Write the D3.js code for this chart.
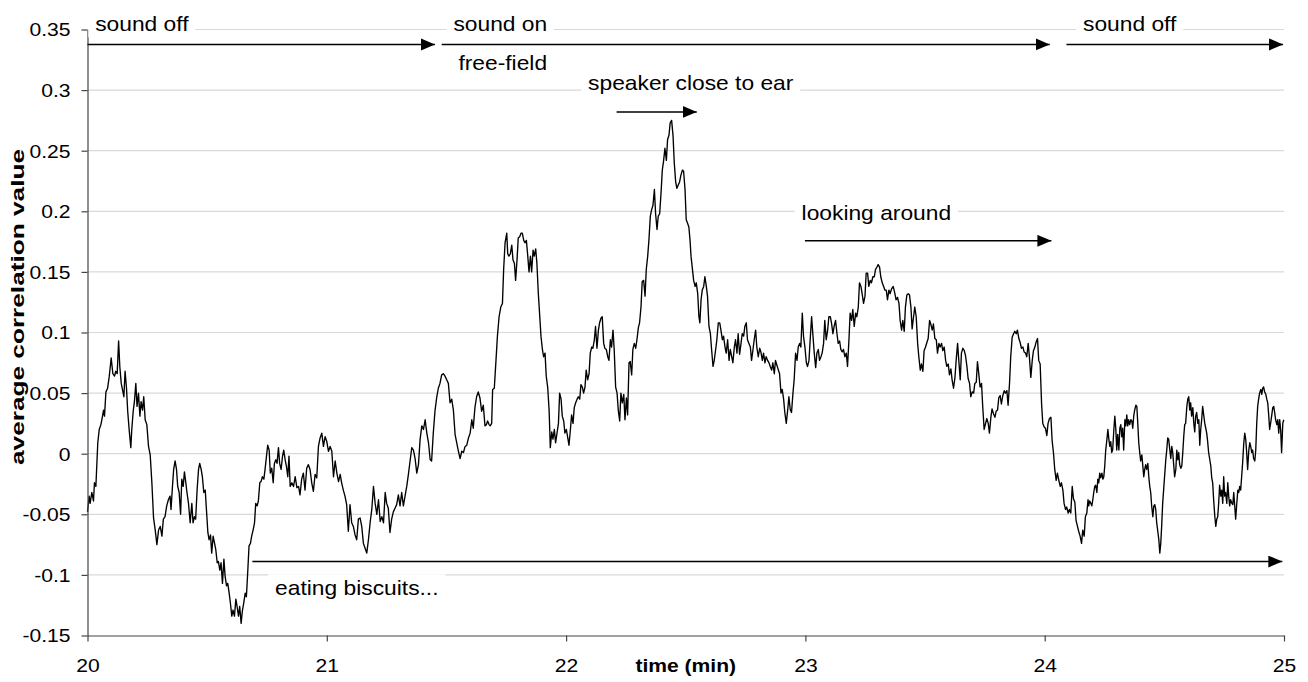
<!DOCTYPE html>
<html><head><meta charset="utf-8">
<script src="https://cdn.jsdelivr.net/npm/d3@7"></script>
<style>body{margin:0;background:#fff}svg{display:block;font-family:"Liberation Sans",Arial,Helvetica,sans-serif}</style>
</head><body><svg id="chart" width="1308" height="682"></svg>
<script>
// [time (min), average correlation value]
const readings = [
[20.000,-0.048],[20.007,-0.035],[20.011,-0.041],[20.018,-0.032],[20.025,-0.039],[20.029,-0.024],[20.035,-0.027],[20.043,0.009],[20.049,0.020],[20.056,0.024],[20.060,0.028],[20.067,0.036],[20.071,0.031],[20.077,0.051],[20.084,0.054],[20.091,0.064],[20.099,0.079],[20.106,0.066],[20.113,0.064],[20.118,0.068],[20.124,0.066],[20.130,0.093],[20.135,0.072],[20.141,0.058],[20.146,0.053],[20.152,0.047],[20.157,0.068],[20.163,0.054],[20.168,0.035],[20.174,0.020],[20.181,0.005],[20.185,0.020],[20.191,0.035],[20.196,0.043],[20.202,0.058],[20.207,0.039],[20.213,0.050],[20.219,0.031],[20.224,0.043],[20.230,0.036],[20.235,0.047],[20.241,0.028],[20.248,0.024],[20.255,0.006],[20.262,-0.001],[20.269,-0.024],[20.276,-0.053],[20.283,-0.063],[20.290,-0.075],[20.297,-0.063],[20.304,-0.060],[20.311,-0.068],[20.317,-0.054],[20.324,-0.052],[20.331,-0.043],[20.338,-0.038],[20.345,-0.035],[20.349,-0.046],[20.355,-0.027],[20.360,-0.013],[20.366,-0.006],[20.372,-0.013],[20.377,-0.027],[20.383,-0.032],[20.389,-0.050],[20.394,-0.021],[20.400,-0.027],[20.405,-0.015],[20.411,-0.024],[20.415,-0.031],[20.422,-0.041],[20.429,-0.057],[20.436,-0.041],[20.441,-0.057],[20.447,-0.052],[20.452,-0.054],[20.458,-0.030],[20.464,-0.013],[20.469,-0.008],[20.475,-0.013],[20.480,-0.019],[20.486,-0.032],[20.492,-0.030],[20.497,-0.046],[20.503,-0.065],[20.508,-0.071],[20.514,-0.067],[20.519,-0.082],[20.525,-0.068],[20.531,-0.074],[20.536,-0.079],[20.542,-0.090],[20.547,-0.089],[20.553,-0.096],[20.558,-0.090],[20.564,-0.107],[20.570,-0.087],[20.575,-0.101],[20.581,-0.109],[20.586,-0.107],[20.592,-0.115],[20.597,-0.123],[20.603,-0.134],[20.608,-0.129],[20.614,-0.134],[20.620,-0.120],[20.625,-0.126],[20.631,-0.134],[20.636,-0.126],[20.642,-0.140],[20.647,-0.130],[20.653,-0.123],[20.659,-0.115],[20.664,-0.118],[20.670,-0.096],[20.675,-0.076],[20.681,-0.074],[20.686,-0.068],[20.692,-0.063],[20.698,-0.057],[20.703,-0.041],[20.709,-0.043],[20.714,-0.039],[20.720,-0.024],[20.725,-0.023],[20.731,-0.019],[20.737,-0.021],[20.742,-0.013],[20.748,-0.002],[20.753,0.007],[20.759,0.003],[20.764,-0.016],[20.770,-0.012],[20.776,-0.024],[20.781,-0.008],[20.787,-0.005],[20.792,-0.008],[20.798,0.005],[20.803,-0.008],[20.809,-0.013],[20.815,-0.002],[20.820,0.003],[20.826,-0.005],[20.831,-0.010],[20.837,-0.019],[20.842,-0.002],
[20.847,-0.027],[20.854,-0.024],[20.861,-0.027],[20.868,-0.019],[20.875,-0.028],[20.882,-0.027],[20.888,-0.034],[20.895,-0.021],[20.902,-0.016],[20.909,-0.030],[20.916,-0.012],[20.923,-0.009],[20.930,-0.013],[20.937,-0.024],[20.944,-0.031],[20.951,-0.017],[20.958,-0.020],[20.965,0.006],[20.972,0.013],[20.979,0.017],[20.986,0.006],[20.993,0.014],[21.000,0.010],[21.007,0.002],[21.014,0.006],[21.021,0.002],[21.028,-0.019],[21.035,-0.006],[21.042,-0.016],[21.049,-0.023],[21.056,-0.017],[21.062,-0.024],[21.069,-0.030],[21.076,-0.035],[21.083,-0.042],[21.090,-0.064],[21.097,-0.042],[21.104,-0.057],[21.111,-0.060],[21.118,-0.067],[21.125,-0.071],[21.132,-0.054],[21.139,-0.053],[21.146,-0.060],[21.153,-0.074],[21.160,-0.078],[21.167,-0.082],[21.174,-0.071],[21.181,-0.057],[21.188,-0.046],[21.195,-0.027],[21.202,-0.041],[21.209,-0.050],[21.216,-0.038],[21.223,-0.056],[21.230,-0.052],[21.237,-0.057],[21.244,-0.032],[21.250,-0.041],[21.257,-0.045],[21.264,-0.065],[21.271,-0.054],[21.278,-0.048],[21.285,-0.045],[21.292,-0.042],[21.299,-0.034],[21.306,-0.043],[21.313,-0.032],[21.320,-0.043],[21.327,-0.035],[21.334,-0.027],[21.341,-0.017],[21.348,-0.006],[21.355,0.005],[21.362,0.003],[21.369,-0.004],[21.376,-0.016],[21.383,-0.009],[21.390,0.012],[21.397,0.023],[21.404,0.020],[21.411,0.028],[21.418,0.017],[21.425,0.009],[21.432,-0.005],[21.438,-0.006],[21.445,0.017],[21.452,0.035],[21.459,0.046],[21.466,0.054],[21.473,0.058],[21.480,0.065],[21.487,0.066],[21.494,0.064],[21.501,0.061],[21.508,0.058],[21.515,0.042],[21.522,0.045],[21.529,0.036],[21.536,0.016],[21.543,0.009],[21.550,0.002],[21.557,-0.004],[21.564,0.002],[21.571,0.001],[21.578,0.006],[21.585,0.007],[21.592,0.013],[21.599,0.017],[21.606,0.028],[21.612,0.021],[21.619,0.038],[21.626,0.047],[21.633,0.051],[21.640,0.046],[21.647,0.035],[21.654,0.040],[21.661,0.023],
[21.667,0.024],[21.672,0.027],[21.678,0.024],[21.683,0.023],[21.689,0.025],[21.693,0.053],[21.700,0.054],[21.707,0.077],[21.713,0.097],[21.720,0.113],[21.727,0.121],[21.734,0.124],[21.739,0.152],[21.745,0.174],[21.752,0.182],[21.756,0.165],[21.761,0.163],[21.767,0.165],[21.773,0.172],[21.778,0.160],[21.784,0.157],[21.789,0.143],[21.795,0.160],[21.800,0.178],[21.806,0.179],[21.812,0.182],[21.817,0.182],[21.823,0.176],[21.828,0.174],[21.834,0.176],[21.839,0.165],[21.845,0.150],[21.851,0.163],[21.856,0.150],[21.862,0.168],[21.867,0.163],[21.873,0.169],[21.878,0.157],[21.884,0.132],[21.890,0.113],[21.895,0.097],[21.901,0.086],[21.906,0.080],[21.912,0.083],[21.917,0.064],[21.923,0.055],[21.929,0.036],[21.934,0.005],[21.940,0.018],[21.945,0.012],[21.951,0.020],[21.956,0.009],[21.962,0.017],[21.968,0.025],[21.973,0.050],[21.979,0.045],[21.984,0.031],[21.990,0.027],[21.995,0.017],[22.001,0.020],[22.007,0.013],[22.012,0.007],[22.018,0.020],[22.023,0.032],[22.029,0.025],[22.034,0.038],[22.040,0.042],[22.046,0.045],[22.051,0.047],[22.057,0.045],[22.062,0.057],[22.068,0.055],[22.073,0.050],[22.079,0.055],[22.084,0.069],[22.090,0.061],[22.096,0.066],[22.101,0.083],[22.107,0.088],[22.112,0.087],[22.118,0.094],[22.123,0.105],[22.129,0.087],[22.135,0.102],[22.140,0.108],[22.146,0.112],[22.151,0.113],[22.157,0.091],[22.162,0.087],[22.168,0.086],[22.174,0.080],[22.179,0.077],[22.185,0.094],[22.190,0.088],[22.196,0.102],[22.201,0.086],[22.207,0.055],[22.213,0.050],[22.218,0.036],[22.224,0.027],[22.229,0.050],[22.235,0.042],[22.241,0.049],[22.246,0.028],[22.252,0.046],[22.257,0.032],[22.263,0.075],[22.268,0.076],[22.274,0.065],[22.279,0.086],[22.285,0.091],[22.291,0.087],[22.296,0.094],[22.302,0.104],[22.307,0.108],[22.313,0.121],[22.318,0.142],[22.324,0.143],[22.330,0.130],[22.335,0.152],[22.341,0.163],[22.346,0.176],[22.352,0.196],[22.357,0.201],[22.363,0.205],[22.369,0.218],[22.374,0.198],[22.380,0.185],[22.385,0.196],[22.391,0.198],[22.397,0.216],[22.402,0.234],[22.407,0.241],[22.413,0.252],[22.419,0.242],[22.424,0.259],[22.430,0.263],[22.435,0.273],[22.441,0.275],[22.447,0.262],[22.452,0.240],[22.458,0.224],[22.463,0.219],[22.469,0.222],[22.474,0.224],[22.480,0.230],[22.486,0.234],[22.491,0.233],[22.497,0.218],[22.502,0.193],[22.508,0.190],
[22.513,0.187],[22.518,0.176],[22.522,0.163],[22.527,0.154],[22.533,0.143],[22.539,0.138],[22.544,0.141],[22.550,0.132],[22.555,0.113],[22.559,0.108],[22.564,0.127],[22.569,0.135],[22.575,0.138],[22.580,0.146],[22.586,0.138],[22.591,0.130],[22.597,0.105],[22.603,0.099],[22.608,0.086],[22.614,0.072],[22.619,0.077],[22.625,0.086],[22.630,0.094],[22.636,0.108],[22.642,0.108],[22.647,0.102],[22.653,0.094],[22.658,0.097],[22.664,0.088],[22.669,0.083],[22.675,0.094],[22.681,0.077],[22.686,0.086],[22.692,0.080],[22.697,0.075],[22.703,0.088],[22.708,0.094],[22.714,0.083],[22.719,0.099],[22.725,0.082],[22.731,0.091],[22.736,0.099],[22.742,0.097],[22.747,0.105],[22.753,0.108],[22.758,0.094],[22.764,0.091],[22.770,0.088],[22.775,0.077],[22.781,0.086],[22.786,0.094],[22.792,0.102],[22.797,0.088],[22.803,0.080],[22.809,0.087],[22.814,0.084],[22.820,0.077],[22.825,0.083],[22.831,0.075],[22.836,0.080],[22.842,0.077],[22.848,0.075],[22.853,0.072],[22.859,0.069],[22.864,0.075],[22.870,0.066],[22.875,0.077],[22.881,0.073],[22.887,0.069],[22.892,0.066],[22.898,0.050],[22.903,0.053],[22.909,0.045],[22.914,0.034],[22.920,0.025],[22.926,0.036],[22.931,0.047],[22.937,0.036],[22.942,0.034],[22.948,0.050],[22.953,0.061],[22.959,0.083],[22.965,0.077],[22.970,0.088],[22.976,0.091],[22.981,0.088],[22.987,0.116],[22.992,0.097],[22.998,0.088],[23.004,0.075],[23.009,0.072],[23.015,0.077],[23.020,0.094],[23.026,0.113],[23.031,0.099],[23.037,0.083],[23.043,0.071],[23.048,0.083],[23.054,0.086],[23.059,0.077],[23.065,0.080],[23.070,0.083],[23.076,0.091],[23.081,0.110],[23.087,0.094],[23.093,0.102],[23.098,0.113],[23.104,0.113],[23.109,0.108],[23.115,0.099],[23.120,0.105],[23.126,0.110],[23.132,0.099],[23.137,0.091],[23.143,0.093],[23.148,0.086],[23.154,0.084],[23.159,0.086],[23.165,0.080],[23.171,0.083],[23.176,0.072],[23.182,0.094],[23.187,0.116],[23.193,0.110],[23.198,0.119],[23.204,0.105],[23.210,0.116],[23.215,0.113],[23.221,0.121],[23.226,0.141],[23.232,0.138],[23.237,0.132],[23.243,0.124],[23.249,0.130],[23.254,0.149],[23.260,0.149],[23.265,0.138],[23.271,0.143],[23.276,0.141],[23.282,0.146],[23.288,0.146],[23.293,0.152],[23.299,0.154],[23.304,0.156],[23.310,0.154],[23.315,0.146],[23.321,0.141],[23.327,0.138],[23.332,0.135],[23.338,0.135],
[23.343,0.127],[23.349,0.135],[23.354,0.132],[23.360,0.136],[23.367,0.138],[23.374,0.132],[23.379,0.127],[23.385,0.129],[23.391,0.124],[23.396,0.110],[23.402,0.102],[23.407,0.110],[23.413,0.101],[23.418,0.121],[23.424,0.131],[23.430,0.132],[23.435,0.131],[23.441,0.121],[23.446,0.103],[23.452,0.113],[23.457,0.121],[23.463,0.113],[23.469,0.091],[23.474,0.080],[23.480,0.069],[23.485,0.074],[23.491,0.068],[23.496,0.085],[23.502,0.088],[23.508,0.092],[23.513,0.095],[23.519,0.110],[23.524,0.107],[23.530,0.102],[23.535,0.107],[23.541,0.095],[23.547,0.094],[23.552,0.083],[23.558,0.091],[23.563,0.088],[23.569,0.091],[23.574,0.085],[23.580,0.088],[23.586,0.077],[23.591,0.072],[23.597,0.074],[23.602,0.065],[23.608,0.070],[23.613,0.061],[23.619,0.054],[23.625,0.063],[23.630,0.077],[23.636,0.091],[23.641,0.077],[23.647,0.061],[23.652,0.083],[23.658,0.087],[23.664,0.085],[23.669,0.081],[23.675,0.072],[23.680,0.062],[23.686,0.058],[23.691,0.047],[23.697,0.051],[23.703,0.050],[23.708,0.058],[23.714,0.059],[23.719,0.076],[23.725,0.065],[23.730,0.055],[23.736,0.058],[23.741,0.039],[23.747,0.020],[23.753,0.025],[23.758,0.029],[23.764,0.025],[23.769,0.017],[23.775,0.030],[23.780,0.037],[23.786,0.033],[23.792,0.030],[23.797,0.035],[23.803,0.036],[23.808,0.046],[23.814,0.048],[23.819,0.041],[23.825,0.048],[23.831,0.052],[23.836,0.050],[23.842,0.052],[23.847,0.040],[23.853,0.058],[23.858,0.080],[23.864,0.096],[23.870,0.099],[23.875,0.101],[23.881,0.099],[23.886,0.102],[23.892,0.095],[23.897,0.092],[23.903,0.087],[23.909,0.088],[23.914,0.084],[23.920,0.083],[23.925,0.080],[23.931,0.091],[23.936,0.080],[23.942,0.063],[23.948,0.077],[23.953,0.085],[23.959,0.088],[23.964,0.092],[23.970,0.095],[23.975,0.077],[23.981,0.074],[23.987,0.041],[23.992,0.025],[23.998,0.022],[24.003,0.021],[24.009,0.015],[24.014,0.025],[24.020,0.029],[24.026,0.030],[24.031,0.011],[24.037,0.000],[24.042,-0.013],[24.048,-0.022],[24.053,-0.016],[24.059,-0.022],[24.065,-0.027],[24.070,-0.024],[24.076,-0.030],[24.081,-0.041],[24.087,-0.046],[24.092,-0.044],[24.098,-0.049],[24.103,-0.046],[24.109,-0.049],[24.115,-0.027],[24.120,-0.037],[24.126,-0.040],[24.131,-0.055],[24.137,-0.060],[24.142,-0.064],[24.148,-0.068],[24.154,-0.074],[24.159,-0.063],[24.165,-0.068],[24.170,-0.052],[24.176,-0.049],[24.181,-0.038],
[24.184,-0.043],[24.188,-0.039],[24.193,-0.041],[24.197,-0.043],[24.201,-0.038],[24.205,-0.032],[24.209,-0.027],[24.213,-0.026],[24.218,-0.032],[24.222,-0.021],[24.226,-0.024],[24.230,-0.016],[24.234,-0.020],[24.239,-0.016],[24.243,-0.021],[24.247,-0.019],[24.251,-0.010],[24.255,0.003],[24.259,0.010],[24.264,0.020],[24.268,0.012],[24.272,0.006],[24.276,0.010],[24.280,0.001],[24.284,0.003],[24.289,0.020],[24.293,0.031],[24.297,0.021],[24.301,0.003],[24.305,0.016],[24.310,0.003],[24.314,0.021],[24.318,0.024],[24.322,0.014],[24.326,0.021],[24.330,0.003],[24.335,0.028],[24.339,0.023],[24.343,0.032],[24.347,0.023],[24.351,0.028],[24.355,0.024],[24.360,0.028],[24.364,0.027],[24.368,0.021],[24.372,0.031],[24.376,0.036],[24.381,0.040],[24.385,0.039],[24.389,0.025],[24.393,0.009],[24.397,0.001],[24.401,-0.006],[24.406,-0.001],[24.410,-0.010],[24.414,-0.019],[24.418,-0.013],[24.422,-0.009],[24.426,-0.013],[24.431,-0.008],[24.435,-0.019],[24.439,-0.027],[24.443,-0.032],[24.447,-0.043],[24.452,-0.052],[24.456,-0.043],[24.460,-0.042],[24.464,-0.046],[24.468,-0.057],[24.472,-0.063],[24.477,-0.071],[24.481,-0.082],[24.485,-0.074],[24.489,-0.059],[24.493,-0.041],[24.498,-0.027],[24.502,-0.016],[24.506,-0.005],[24.510,0.003],[24.514,0.013],[24.518,0.012],[24.523,0.003],[24.527,-0.004],[24.531,0.006],[24.535,0.001],[24.539,-0.009],[24.543,-0.019],[24.548,-0.013],[24.552,0.003],[24.556,-0.005],[24.560,0.001],[24.564,-0.009],[24.569,-0.012],[24.573,-0.010],[24.577,0.001],[24.581,0.014],[24.585,0.024],[24.589,0.025],[24.594,0.039],[24.598,0.045],[24.602,0.047],[24.606,0.036],[24.610,0.042],[24.614,0.031],[24.619,0.038],[24.623,0.025],[24.627,0.018],[24.631,0.031],[24.635,0.034],[24.640,0.025],[24.644,0.028],[24.648,0.007],[24.652,0.020],[24.656,0.028],[24.660,0.039],[24.665,0.031],[24.669,0.025],[24.673,0.021],[24.677,0.017],[24.681,0.010],[24.685,0.001],[24.690,-0.005],[24.694,-0.010],[24.698,-0.020],[24.702,-0.024],[24.706,-0.038],[24.711,-0.052],[24.715,-0.060],[24.719,-0.054],[24.723,-0.052],[24.727,-0.041],[24.731,-0.026],[24.736,-0.035],[24.740,-0.030],[24.744,-0.041],[24.748,-0.019],[24.752,-0.035],[24.756,-0.032],[24.761,-0.041],[24.765,-0.024],[24.769,-0.035],[24.773,-0.043],[24.777,-0.038],[24.782,-0.041],[24.786,-0.042],[24.790,-0.032],[24.794,-0.043],[24.798,-0.054],[24.802,-0.043],[24.807,-0.030],[24.811,-0.032],[24.815,-0.027],[24.819,-0.030],[24.823,-0.019],[24.827,-0.008],[24.832,0.009],[24.836,0.017],[24.840,0.012],[24.844,0.001],[24.848,-0.013],[24.853,0.003],[24.857,0.009],[24.861,0.006],[24.865,0.001],[24.869,0.003],[24.873,-0.004],[24.878,-0.006],[24.882,0.003],[24.886,0.025],[24.890,0.039],[24.894,0.045],[24.898,0.050],[24.903,0.053],[24.907,0.049],[24.911,0.054],[24.915,0.055],[24.919,0.051],[24.924,0.049],[24.928,0.045],[24.932,0.042],[24.936,0.032],[24.940,0.020],[24.944,0.025],[24.949,0.032],[24.953,0.038],[24.957,0.039],[24.961,0.034],[24.965,0.028],[24.970,0.024],[24.974,0.028],[24.978,0.017],[24.982,0.028],[24.986,0.020],[24.990,0.001],[24.995,0.025],[24.999,0.028]
];

const xTicks = [20, 21, 22, 23, 24, 25];
const yTicks = [-0.15, -0.1, -0.05, 0, 0.05, 0.1, 0.15, 0.2, 0.25, 0.3, 0.35];
const xTitle = "time (min)";
const yTitle = "average correlation value";

// annotation labels: text, left edge (time), baseline (value)
const noteText = ["sound off", "sound on", "free-field", "speaker close to ear", "looking around", "sound off", "eating biscuits..."];
const noteTime = [20.032, 21.529, 21.550, 22.092, 22.984, 24.160, 20.784];
const noteValue = [0.349, 0.349, 0.3168, 0.3003, 0.1932, 0.349, -0.1165];

// arrows: start time, end time, value level
const arrowStart = [20.0, 21.480, 24.091, 22.211, 22.998, 20.689];
const arrowEnd = [21.452, 24.021, 24.996, 22.546, 24.028, 24.993];
const arrowValue = [0.3377, 0.3377, 0.3377, 0.282, 0.1756, -0.089];

const svg = d3.select("#chart");
const x = d3.scaleLinear().domain([20, 25]).range([87.5, 1284]);
const y = d3.scaleLinear().domain([-0.15, 0.35]).range([635.5, 29.5]);
const SX = 1.14; // horizontal glyph stretch of the original

svg.append("rect").attr("width", 1308).attr("height", 682).attr("fill", "#fff");

// gridlines
svg.append("g").selectAll("line").data(yTicks.filter(d => d > -0.15)).join("line")
  .attr("x1", x(20)).attr("x2", x(25))
  .attr("y1", d => y(d)).attr("y2", d => y(d))
  .attr("stroke", "#d9d9d9").attr("stroke-width", 1.2);

// data line
svg.append("path").datum(readings)
  .attr("fill", "none").attr("stroke", "#000").attr("stroke-width", 1.35)
  .attr("stroke-linejoin", "round")
  .attr("d", d3.line().x(d => x(d[0])).y(d => y(d[1])));

// axes
const fmt = d => (d === 0 ? "0" : String(d));
const gy = svg.append("g").attr("transform", `translate(${x(20)},0)`)
  .call(d3.axisLeft(y).tickValues(yTicks).tickFormat(fmt).tickSize(6).tickSizeOuter(0));
const gx = svg.append("g").attr("transform", `translate(0,${y(-0.15)})`)
  .call(d3.axisBottom(x).tickValues(xTicks).tickFormat(d3.format("d")).tickSize(6).tickSizeOuter(0));
[gy, gx].forEach(g => {
  g.select(".domain").attr("stroke", "#444").attr("stroke-width", 1.2);
  g.selectAll(".tick line").attr("stroke", "#444").attr("stroke-width", 1.2);
  g.selectAll("text").attr("fill", "#000").attr("font-size", 18.5)
    .attr("font-family", '"Liberation Sans", Arial, sans-serif');
});
gy.selectAll(".tick text").attr("x", 0).attr("dy", "0.35em")
  .attr("transform", `translate(-17,0) scale(${SX},1)`);
gx.selectAll(".tick text").attr("y", 0).attr("dy", 0)
  .attr("transform", `translate(0,36) scale(${SX},1)`);

// axis titles
svg.append("text").attr("transform", `translate(${(x(22) + x(23)) / 2},672) scale(${SX},1)`)
  .attr("text-anchor", "middle").attr("font-weight", "bold").attr("font-size", 18.5)
  .text(xTitle);
svg.append("text").attr("transform", `translate(24,307) rotate(-90) scale(1.38,1)`)
  .attr("text-anchor", "middle").attr("font-weight", "bold").attr("font-size", 19)
  .text(yTitle);

// arrows
const defs = svg.append("defs");
defs.append("marker").attr("id", "head").attr("markerUnits", "userSpaceOnUse")
  .attr("markerWidth", 16).attr("markerHeight", 14).attr("refX", 14).attr("refY", 6)
  .attr("orient", "auto")
  .append("path").attr("d", "M0,0 L14,6 L0,12 Z").attr("fill", "#000");
svg.append("g").selectAll("line").data(arrowStart).join("line")
  .attr("x1", (d, i) => x(d)).attr("x2", (d, i) => x(arrowEnd[i]))
  .attr("y1", (d, i) => y(arrowValue[i])).attr("y2", (d, i) => y(arrowValue[i]))
  .attr("stroke", "#000").attr("stroke-width", 1.5).attr("marker-end", "url(#head)");

// annotation labels on white boxes
noteText.forEach((t, i) => {
  const g = svg.append("g").attr("transform", `translate(${x(noteTime[i])},${y(noteValue[i])}) scale(${SX},1)`);
  const r = g.append("rect").attr("fill", "#fff");
  const tx = g.append("text").attr("font-size", 20).attr("fill", "#000").text(t);
  const b = tx.node().getBBox();
  r.attr("x", b.x - 6).attr("y", b.y - 3).attr("width", b.width + 12).attr("height", b.height + 5);
});
</script></body></html>
